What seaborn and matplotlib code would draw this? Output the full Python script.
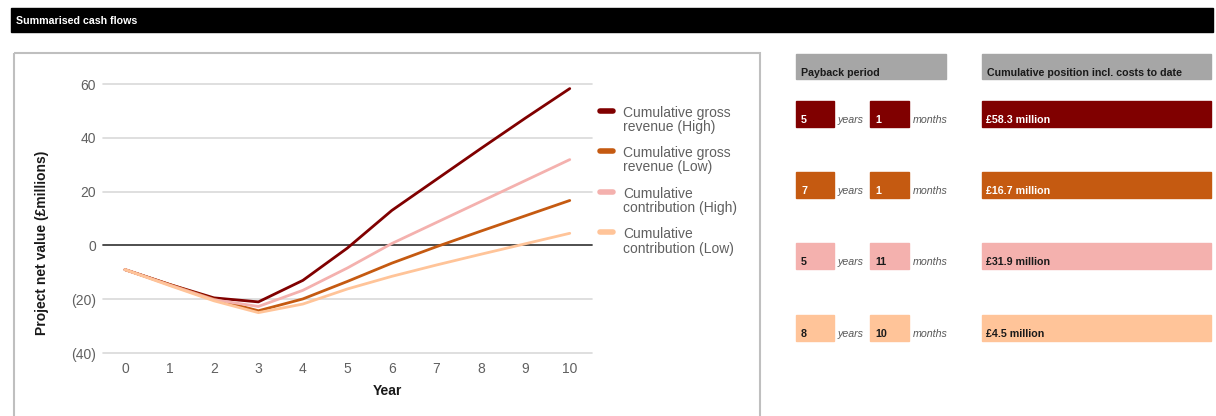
import matplotlib
matplotlib.use("Agg")
import matplotlib.pyplot as plt
from matplotlib.patches import Rectangle
from matplotlib.ticker import FuncFormatter
import seaborn as sns
import pandas as pd

# ---------------- data ----------------
years = list(range(11))
series_names = [
    "Cumulative gross\nrevenue (High)",
    "Cumulative gross\nrevenue (Low)",
    "Cumulative\ncontribution (High)",
    "Cumulative\ncontribution (Low)",
]
gross_high = [-9, -14.5, -19.5, -21, -13, -1, 13, 24.5, 36, 47.3, 58.3]
gross_low = [-9, -14.5, -20, -24.3, -19.9, -13.4, -6.6, -0.5, 5.3, 11, 16.7]
contrib_high = [-9, -14.7, -20.2, -22.7, -16.7, -8.4, 0.7, 8.5, 16.3, 24.1, 31.9]
contrib_low = [-9, -14.9, -20.6, -25, -21.8, -16.2, -11.5, -7.3, -3.3, 0.6, 4.5]
y_ticks = [-40, -20, 0, 20, 40, 60]

payback_years = [5, 7, 5, 8]
payback_months = [1, 1, 11, 10]
cumulative_position = [58.3, 16.7, 31.9, 4.5]

colors = ["#800000", "#C55A11", "#F4B1AE", "#FFC499"]
text_colors = ["white", "white", "#1a1a1a", "#1a1a1a"]

df = pd.DataFrame({
    "Year": years * 4,
    "Value": gross_high + gross_low + contrib_high + contrib_low,
    "Series": sum([[n] * len(years) for n in series_names], []),
})

# ---------------- figure ----------------
sns.set_theme(style="white")
plt.rcParams["font.family"] = ["Liberation Sans", "DejaVu Sans"]

W, H = 1216, 416
fig = plt.figure(figsize=(W / 100, H / 100), dpi=100)
fig.patch.set_facecolor("white")

bg = fig.add_axes([0, 0, 1, 1], zorder=0)
bg.set_xlim(0, W)
bg.set_ylim(H, 0)
bg.axis("off")

# title bar
bg.add_patch(Rectangle((11, 8), 1202, 23.5, color="black"))
bg.text(16, 20.5, "Summarised cash flows", color="white", fontsize=7.7,
        fontweight="bold", va="center", ha="left")

# chart panel border
bg.add_patch(Rectangle((13.5, 52.5), 746, 380, fill=False,
                       edgecolor="#BFBFBF", lw=1.5))

# ---------------- line chart ----------------
ax_l, ax_r, ax_t, ax_b = 102.7, 592, 84, 353
ax = fig.add_axes([ax_l / W, (H - ax_b) / H, (ax_r - ax_l) / W, (ax_b - ax_t) / H],
                  zorder=2)
ax.set_facecolor("none")

for v in y_ticks:
    ax.axhline(v, color="#404040" if v == 0 else "#D9D9D9",
               lw=1.3 if v == 0 else 1.2, zorder=0, clip_on=False)

sns.lineplot(data=df, x="Year", y="Value", hue="Series", hue_order=series_names,
             palette=colors, linewidth=2.0, ax=ax, legend=True)

ax.set_xlim(-0.5, 10.5)
ax.set_ylim(-40, 60)
ax.set_xticks(years)
ax.set_yticks(y_ticks)
ax.yaxis.set_major_formatter(FuncFormatter(
    lambda v, p: f"({abs(int(v))})" if v < 0 else f"{int(v)}"))
ax.tick_params(axis="both", length=0, labelsize=10, labelcolor="#606060")
ax.tick_params(axis="x", pad=6.5)
ax.tick_params(axis="y", pad=5)
for s in ax.spines.values():
    s.set_visible(False)
ax.grid(False)

ax.set_xlabel("Year", fontsize=10, fontweight="bold", color="#1a1a1a")
ax.set_ylabel("Project net value (£millions)", fontsize=10, fontweight="bold",
              color="#1a1a1a")
ax.xaxis.set_label_coords(0.583, -0.114)
ax.yaxis.set_label_coords(-0.11, 0.41)

leg = ax.legend(loc="upper left", bbox_to_anchor=(600 / W, (H - 106) / H),
                bbox_transform=fig.transFigure, frameon=False, fontsize=10,
                handlelength=0.95, handletextpad=0.7, labelspacing=0.9,
                borderpad=0, borderaxespad=0)
for t in leg.get_texts():
    t.set_color("#606060")
    t.set_linespacing(1.0)
for h in leg.legend_handles:
    h.set_linewidth(4)
for col in leg._legend_handle_box.get_children():
    for row in col.get_children():
        row.align = "top"

# ---------------- payback table ----------------
hdr_font = dict(fontsize=7.7, fontweight="bold", color="#1a1a1a", va="center", ha="left")
bg.add_patch(Rectangle((796, 54), 150, 25, color="#A6A6A6"))
bg.text(801, 73, "Payback period", **hdr_font)
bg.add_patch(Rectangle((982, 54), 229, 25, color="#A6A6A6"))
bg.text(987, 73, "Cumulative position incl. costs to date", **hdr_font)

row_tops = [101, 172, 243, 315]
for i, top in enumerate(row_tops):
    c = colors[i]
    tc = text_colors[i]
    bg.add_patch(Rectangle((796, top), 38, 26, color=c))
    bg.add_patch(Rectangle((870, top), 39, 26, color=c))
    bg.add_patch(Rectangle((982, top), 229, 26, color=c))
    ty = top + 19
    vf = dict(fontsize=7.7, fontweight="bold", color=tc, va="center", ha="left")
    bg.text(801, ty, f"{payback_years[i]}", **vf)
    bg.text(875, ty, f"{payback_months[i]}", **vf)
    bg.text(986, ty, f"£{cumulative_position[i]} million", **vf)
    lf = dict(fontsize=7.7, fontstyle="italic", color="#595959", va="center", ha="left")
    bg.text(838, ty, "years", **lf)
    bg.text(912.5, ty, "months", **lf)

fig.savefig("out.png", dpi=100, facecolor="white")
